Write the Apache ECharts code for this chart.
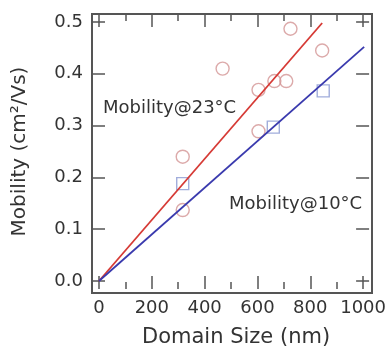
<!DOCTYPE html>
<html>
<head>
<meta charset="utf-8">
<script src="https://cdn.jsdelivr.net/npm/echarts@6/dist/echarts.min.js"></script>
<style>
html,body{margin:0;padding:0;background:#fff;}
#c{width:389px;height:353px;}
</style>
</head>
<body>
<div id="c"></div>
<script>
// Data
const circleX = [317, 317, 468, 604, 604, 664, 709, 725, 845];
const circleY = [0.240, 0.137, 0.410, 0.369, 0.289, 0.386, 0.386, 0.487, 0.445];
const squareX = [317, 660, 849];
const squareY = [0.188, 0.297, 0.367];
const redLineX = [0, 845];
const redLineY = [0, 0.498];
const blueLineX = [0, 1004];
const blueLineY = [0, 0.452];
const xTicks = [0, 200, 400, 600, 800, 1000];
const yTicks = [0.0, 0.1, 0.2, 0.3, 0.4, 0.5];
const xTitle = 'Domain Size (nm)';
const yTitle = 'Mobility (cm\u00b2/Vs)';
const label23 = 'Mobility@23\u00b0C';
const label10 = 'Mobility@10\u00b0C';

const zip = (a, b) => a.map((v, i) => [v, b[i]]);
const FONT = 'DejaVu Sans';
const TXT = '#333333';
const AX = '#555555';

const tick = () => ({show: true, inside: true, length: 13, lineStyle: {color: AX, width: 1.5}});
const minor = () => ({show: true, splitNumber: 2, length: 7, lineStyle: {color: AX, width: 1.5}});
const noLine = () => ({show: false, onZero: false});

const chart = echarts.init(document.getElementById('c'), null, {renderer: 'canvas'});
chart.setOption({
  animation: false,
  backgroundColor: '#ffffff',
  grid: [{left: 99, right: 23, top: 22, bottom: 68, containLabel: false}],
  xAxis: [
    {
      type: 'value', gridIndex: 0, position: 'bottom', offset: 8,
      min: 0, max: 1000, interval: 200,
      axisLine: noLine(),
      axisTick: tick(), minorTick: minor(),
      splitLine: {show: false}, minorSplitLine: {show: false},
      axisLabel: {margin: 10, color: TXT, fontFamily: FONT, fontSize: 18, formatter: v => String(v)},
      name: xTitle, nameLocation: 'middle', nameGap: 38,
      nameTextStyle: {color: TXT, fontFamily: FONT, fontSize: 21, padding: [0, 0, 0, 10]}
    },
    {
      type: 'value', gridIndex: 0, position: 'top', offset: 8,
      min: 0, max: 1000, interval: 200,
      axisLine: noLine(),
      axisTick: tick(), minorTick: minor(),
      splitLine: {show: false}, minorSplitLine: {show: false},
      axisLabel: {show: false}
    }
  ],
  yAxis: [
    {
      type: 'value', gridIndex: 0, position: 'left', offset: 7,
      min: 0, max: 0.5, interval: 0.1,
      axisLine: noLine(),
      axisTick: tick(),
      splitLine: {show: false},
      axisLabel: {margin: 9, color: TXT, fontFamily: FONT, fontSize: 18, formatter: v => v.toFixed(1)},
      name: yTitle, nameLocation: 'middle', nameGap: 62, nameRotate: 90,
      nameTextStyle: {color: TXT, fontFamily: FONT, fontSize: 20}
    },
    {
      type: 'value', gridIndex: 0, position: 'right', offset: 6,
      min: 0, max: 0.5, interval: 0.1,
      axisLine: noLine(),
      axisTick: tick(),
      splitLine: {show: false},
      axisLabel: {show: false}
    }
  ],
  graphic: [
    {type: 'rect', z: 100, silent: true,
     shape: {x: 92, y: 14, width: 280, height: 279},
     style: {fill: 'none', stroke: AX, lineWidth: 2}},
    {type: 'text', left: 103, top: 99, z: 100,
     style: {text: label23, fill: TXT, font: '18px "DejaVu Sans"'}},
    {type: 'text', left: 229, top: 195, z: 100,
     style: {text: label10, fill: TXT, font: '18px "DejaVu Sans"'}}
  ],
  series: [
    {
      type: 'line', xAxisIndex: 0, yAxisIndex: 0, data: zip(redLineX, redLineY), symbol: 'none',
      lineStyle: {color: '#d63a35', width: 1.8}, z: 3
    },
    {
      type: 'line', xAxisIndex: 0, yAxisIndex: 0, data: zip(blueLineX, blueLineY), symbol: 'none',
      lineStyle: {color: '#3a3aae', width: 1.8}, z: 3
    },
    {
      type: 'scatter', xAxisIndex: 0, yAxisIndex: 0, data: zip(circleX, circleY), symbol: 'circle', symbolSize: 13,
      itemStyle: {color: 'rgba(255,255,255,0)', borderColor: '#d39595', borderWidth: 1.4}, z: 2
    },
    {
      type: 'scatter', xAxisIndex: 0, yAxisIndex: 0, data: zip(squareX, squareY), symbol: 'rect', symbolSize: 12,
      itemStyle: {color: 'rgba(255,255,255,0)', borderColor: '#8a98d2', borderWidth: 1.4}, z: 2
    },
    {
      type: 'scatter', xAxisIndex: 1, yAxisIndex: 1, data: [], silent: true
    }
  ]
});
</script>
</body>
</html>
